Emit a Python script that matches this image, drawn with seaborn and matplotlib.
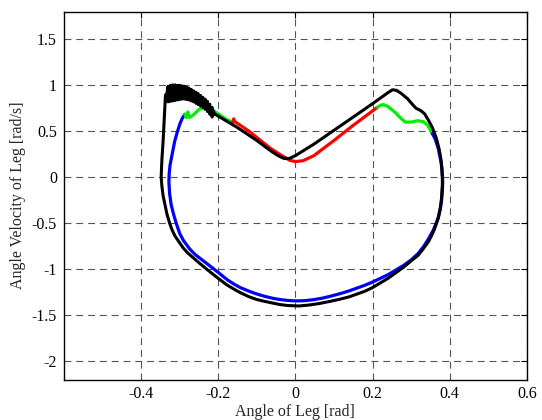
import matplotlib
matplotlib.use("Agg")
import matplotlib.pyplot as plt
import seaborn as sns
import numpy as np
import pandas as pd
from matplotlib.ticker import FuncFormatter

# ---- data ----
blue_x = [0.352, 0.362, 0.37, 0.376, 0.38, 0.382, 0.381, 0.379, 0.376, 0.371, 0.365, 0.357, 0.345,
          0.333, 0.318, 0.3, 0.28, 0.26, 0.24, 0.22, 0.2, 0.18, 0.16, 0.14, 0.117, 0.09, 0.07, 0.045,
          0.022, 0.0, -0.02, -0.04, -0.057, -0.08, -0.1, -0.12, -0.143, -0.16, -0.175, -0.19, -0.2,
          -0.22, -0.24, -0.26, -0.274, -0.29, -0.3, -0.309, -0.316, -0.322, -0.326, -0.328, -0.327,
          -0.325, -0.32, -0.313, -0.307, -0.3, -0.294, -0.287]
blue_y = [0.5, 0.42, 0.32, 0.2, 0.1, -0.05, -0.15, -0.25, -0.34, -0.43, -0.5, -0.58, -0.67,
          -0.75, -0.83, -0.9, -0.96, -1.01, -1.06, -1.1, -1.14, -1.175, -1.205, -1.235, -1.265, -1.295,
          -1.315, -1.333, -1.343, -1.345, -1.34, -1.33, -1.318, -1.295, -1.27, -1.24, -1.2, -1.16,
          -1.12, -1.07, -1.035, -0.97, -0.905, -0.84, -0.78, -0.69, -0.61, -0.5, -0.4, -0.3, -0.18,
          -0.05, 0.05, 0.13, 0.24, 0.389, 0.48, 0.574, 0.635, 0.685]

green1_x = [-0.287, -0.283, -0.279, -0.275, -0.265, -0.252, -0.243, -0.23, -0.215, -0.2, -0.18, -0.162]
green1_y = [0.685, 0.65, 0.71, 0.65, 0.675, 0.73, 0.752, 0.745, 0.73, 0.69, 0.63, 0.6]

red_x = [-0.162, -0.160, -0.157, -0.12, -0.065, -0.035, -0.015, 0.0, 0.02, 0.048, 0.1, 0.15, 0.213]
red_y = [0.60, 0.635, 0.605, 0.5, 0.315, 0.235, 0.185, 0.17, 0.18, 0.235, 0.40, 0.565, 0.762]

green2_x = [0.213, 0.222, 0.228, 0.24, 0.26, 0.275, 0.285, 0.3, 0.317, 0.332, 0.343, 0.352]
green2_y = [0.762, 0.785, 0.79, 0.77, 0.7, 0.635, 0.6, 0.6, 0.615, 0.605, 0.565, 0.5]

black_x = [-0.21, -0.152, -0.1, -0.065, -0.045, -0.03, -0.015, 0.0, 0.048, 0.1, 0.15, 0.2, 0.24,
           0.252, 0.262, 0.275, 0.291, 0.305, 0.313, 0.325, 0.335, 0.345, 0.355, 0.365, 0.373, 0.378,
           0.381, 0.381, 0.38, 0.379, 0.377, 0.374, 0.37, 0.365, 0.36, 0.353, 0.345, 0.333, 0.318,
           0.3, 0.28, 0.26, 0.24, 0.22, 0.2, 0.18, 0.16, 0.14, 0.117, 0.09, 0.06, 0.035, 0.009,
           -0.02, -0.04, -0.057, -0.08, -0.1, -0.12, -0.143, -0.16, -0.178, -0.2, -0.215, -0.23,
           -0.25, -0.265, -0.28, -0.291, -0.302, -0.312, -0.32, -0.326, -0.333, -0.338, -0.343,
           -0.346, -0.348, -0.347, -0.346, -0.343, -0.341, -0.339, -0.337]
black_y = [0.69, 0.545, 0.40, 0.29, 0.235, 0.205, 0.205, 0.235, 0.36, 0.51, 0.655, 0.8, 0.92,
           0.952, 0.945, 0.91, 0.853, 0.785, 0.75, 0.725, 0.69, 0.62, 0.54, 0.43, 0.3, 0.176,
           0.0, -0.08, -0.15, -0.22, -0.3, -0.37, -0.45, -0.51, -0.57, -0.635, -0.7, -0.77, -0.85,
           -0.91, -0.98, -1.04, -1.1, -1.15, -1.2, -1.24, -1.27, -1.3, -1.325, -1.35, -1.375, -1.39,
           -1.40, -1.395, -1.385, -1.37, -1.35, -1.33, -1.30, -1.255, -1.215, -1.17, -1.1, -1.05,
           -1.0, -0.93, -0.875, -0.82, -0.768, -0.70, -0.64, -0.57, -0.5, -0.4, -0.3, -0.2,
           -0.1, 0.0, 0.1, 0.2, 0.39, 0.55, 0.72, 0.88]

# noisy band of the black trace (upper / lower envelope)
band_x = [-0.336, -0.330, -0.324, -0.318, -0.312, -0.306, -0.300, -0.294, -0.288, -0.282, -0.276,
          -0.270, -0.264, -0.258, -0.252, -0.246, -0.240, -0.234, -0.228, -0.222, -0.216, -0.212]
band_hi = [0.90, 0.99, 1.00, 1.005, 1.005, 1.0, 1.0, 0.995, 0.99, 0.98, 0.97,
           0.955, 0.94, 0.925, 0.91, 0.89, 0.87, 0.85, 0.825, 0.795, 0.76, 0.72]
band_lo = [0.84, 0.82, 0.825, 0.83, 0.835, 0.84, 0.845, 0.85, 0.85, 0.845, 0.84,
           0.83, 0.82, 0.805, 0.79, 0.775, 0.76, 0.74, 0.715, 0.685, 0.655, 0.68]

x_ticks = [-0.4, -0.2, 0, 0.2, 0.4, 0.6]
y_ticks = [-2, -1.5, -1, -0.5, 0, 0.5, 1, 1.5]

# ---- style ----
sns.set_style("white")
plt.rcParams["font.family"] = ["Liberation Serif", "DejaVu Serif"]
plt.rcParams["axes.unicode_minus"] = False
plt.rcParams["lines.scale_dashes"] = False

fig = plt.figure(figsize=(5.42, 4.2), dpi=100)
ax = fig.add_axes([0.118, 0.0964, 0.854, 0.8756])

lw = 2.3
def draw(xs, ys, color, lw=lw):
    df = pd.DataFrame({"x": xs, "y": ys})
    sns.lineplot(data=df, x="x", y="y", sort=False, estimator=None, color=color,
                 linewidth=lw, ax=ax, solid_capstyle="round", solid_joinstyle="round")

draw(blue_x, blue_y, "#0000ff")
draw(green1_x, green1_y, "#00ee00")
draw(red_x, red_y, "#ff0000")
draw(green2_x, green2_y, "#00ee00")

# black trace: left rise + noisy band + rest of loop
zz_x, zz_y = [], []
for bx, hi, lo in zip(band_x, band_hi, band_lo):
    zz_x += [bx, bx]
    zz_y += [hi, lo]
full_x = black_x + zz_x + [black_x[0]]
full_y = black_y + zz_y + [black_y[0]]
draw(full_x, full_y, "black", lw=2.2)

ax.set_xlim(-0.6, 0.6)
ax.set_ylim(-2.2, 1.8)
ax.set_xticks(x_ticks)
ax.set_yticks(y_ticks)
fmt = FuncFormatter(lambda v, p: "%g" % v)
ax.xaxis.set_major_formatter(fmt)
ax.yaxis.set_major_formatter(fmt)
ax.grid(True, color="#555555", linestyle=(0, (5, 3.5)), linewidth=0.8)
ax.tick_params(direction="in", length=4, width=0.8, top=True, right=True,
               labelsize=11.5, colors="black", pad=5)
for s in ax.spines.values():
    s.set_color("black")
    s.set_linewidth(1.0)
ax.set_xlabel("Angle of Leg [rad]", fontsize=11.5, labelpad=1)
ax.set_ylabel("Angle Velocity of Leg [rad/s]", fontsize=11.5, labelpad=4)

fig.savefig("out.png", dpi=100)
